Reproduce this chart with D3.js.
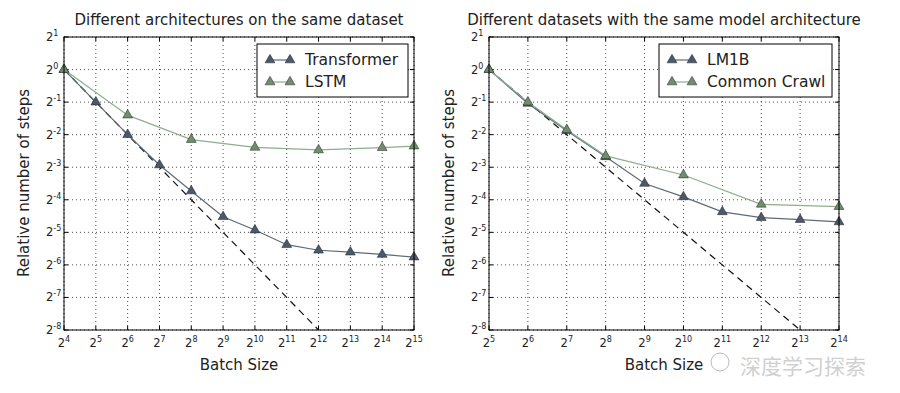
<!DOCTYPE html>
<html>
<head>
<meta charset="utf-8">
<script src="https://cdn.jsdelivr.net/npm/d3@7"></script>
<style>
	body { margin: 0; background: #fff; }
	svg { font-family: "DejaVu Sans", sans-serif; }
</style>
</head>
<body>
<svg id="chart" width="900" height="393"></svg>
<script>
// exponents (log2)
const leftBatch = [4, 5, 6, 7, 8, 9, 10, 11, 12, 13, 14, 15];
const transformerSteps = [0, -1, -2, -2.93, -3.73, -4.52, -4.93, -5.38, -5.55, -5.61, -5.68, -5.76];
const lstmBatch = [4, 6, 8, 10, 12, 14, 15];
const lstmSteps = [0, -1.4, -2.15, -2.39, -2.47, -2.4, -2.35];

const rightBatch = [5, 6, 7, 8, 9, 10, 11, 12, 13, 14];
const lm1bSteps = [0, -1.04, -1.88, -2.68, -3.5, -3.91, -4.37, -4.55, -4.61, -4.68];
const crawlBatch = [5, 6, 7, 8, 10, 12, 14];
const crawlSteps = [0, -1.0, -1.85, -2.65, -3.24, -4.14, -4.21];

const yTicks = [1, 0, -1, -2, -3, -4, -5, -6, -7, -8];

const darkMarker = '#4b596a', darkLine = '#5d6a79';
const greenMarker = '#6e8e6e', greenLine = '#8cae8c';

let svg = d3.select('#chart');

function drawPanel(opts) {
	let x = d3.scaleLinear().domain(opts.xDomain).range([opts.left, opts.right]);
	let y = d3.scaleLinear().domain([1, -8]).range([37, 330]);
	let g = svg.append('g');
	let xTicks = d3.range(opts.xDomain[0], opts.xDomain[1] + 1);

	// dotted grid
	g.selectAll('.gx').data(xTicks).enter().append('line')
		.attr('x1', d => x(d)).attr('x2', d => x(d))
		.attr('y1', y(1)).attr('y2', y(-8))
		.attr('stroke', '#000').attr('stroke-width', 0.7).attr('stroke-dasharray', '1,3');
	g.selectAll('.gy').data(yTicks).enter().append('line')
		.attr('y1', d => y(d)).attr('y2', d => y(d))
		.attr('x1', opts.left).attr('x2', opts.right)
		.attr('stroke', '#000').attr('stroke-width', 0.7).attr('stroke-dasharray', '1,3');

	// inward ticks on all four sides
	g.selectAll('.tb').data(xTicks).enter().append('path')
		.attr('d', d => `M${x(d)},${y(-8)}v-4M${x(d)},${y(1)}v4`)
		.attr('stroke', '#000');
	g.selectAll('.tl').data(yTicks).enter().append('path')
		.attr('d', d => `M${opts.left},${y(d)}h4M${opts.right},${y(d)}h-4`)
		.attr('stroke', '#000');

	// ideal scaling dashed line
	let d0 = opts.xDomain[0];
	g.append('line')
		.attr('x1', x(d0)).attr('y1', y(0))
		.attr('x2', x(d0 + 8)).attr('y2', y(-8))
		.attr('stroke', '#111').attr('stroke-width', 1.2).attr('stroke-dasharray', '7,5');

	let line = d3.line().x(d => x(d[0])).y(d => y(d[1]));
	let tri = d3.symbol().type(d3.symbolTriangle).size(42);

	opts.series.forEach(s => {
		let pts = s.xs.map((v, i) => [v, s.ys[i]]);
		g.append('path').datum(pts)
			.attr('d', line).attr('fill', 'none')
			.attr('stroke', s.line).attr('stroke-width', 1.2);
		g.selectAll(null).data(pts).enter().append('path')
			.attr('d', tri)
			.attr('transform', d => `translate(${x(d[0])},${y(d[1])})`)
			.attr('fill', s.marker).attr('stroke', '#222').attr('stroke-width', 0.5);
	});

	// frame
	g.append('rect')
		.attr('x', opts.left).attr('y', y(1))
		.attr('width', opts.right - opts.left).attr('height', y(-8) - y(1))
		.attr('fill', 'none').attr('stroke', '#000').attr('stroke-width', 1);

	// tick labels
	let xl = g.selectAll('.xl').data(xTicks).enter().append('text')
		.attr('x', d => x(d)).attr('y', 347)
		.attr('text-anchor', 'middle').attr('font-size', 11.5).attr('fill', '#222');
	xl.append('tspan').text('2');
	xl.append('tspan').attr('dy', -5).attr('font-size', 8).text(d => d);

	let yl = g.selectAll('.yl').data(yTicks).enter().append('text')
		.attr('x', opts.left - 18).attr('y', d => y(d) + 4)
		.attr('text-anchor', 'start').attr('font-size', 11.5).attr('fill', '#222');
	yl.append('tspan').text('2');
	yl.append('tspan').attr('dy', -5).attr('font-size', 8)
		.text(d => d < 0 ? '-' + (-d) : d);

	// titles
	g.append('text').attr('x', (opts.left + opts.right) / 2).attr('y', 25)
		.attr('text-anchor', 'middle').attr('font-size', 15).attr('fill', '#222')
		.text(opts.title);
	g.append('text').attr('x', (opts.left + opts.right) / 2).attr('y', 370)
		.attr('text-anchor', 'middle').attr('font-size', 15).attr('fill', '#222')
		.text('Batch Size');
	g.append('text')
		.attr('transform', `translate(${opts.left - 35},183) rotate(-90)`)
		.attr('text-anchor', 'middle').attr('font-size', 15).attr('fill', '#222')
		.text('Relative number of steps');

	// legend
	let lg = g.append('g').attr('transform', `translate(${opts.legend[0]},${opts.legend[1]})`);
	lg.append('rect').attr('width', opts.legend[2]).attr('height', 53)
		.attr('fill', '#fff').attr('stroke', '#000').attr('stroke-width', 1);
	opts.series.forEach((s, i) => {
		let ly = 16 + i * 22;
		lg.append('line').attr('x1', 13).attr('x2', 33).attr('y1', ly).attr('y2', ly)
			.attr('stroke', s.line).attr('stroke-width', 1.2);
		[13, 33].forEach(px => lg.append('path').attr('d', tri)
			.attr('transform', `translate(${px},${ly})`)
			.attr('fill', s.marker).attr('stroke', '#222').attr('stroke-width', 0.5));
		lg.append('text').attr('x', 48).attr('y', ly + 5)
			.attr('font-size', 15.5).attr('fill', '#222').text(s.name);
	});
}

drawPanel({
	xDomain: [4, 15], left: 64, right: 414,
	title: 'Different architectures on the same dataset',
	legend: [257, 44, 151],
	series: [
		{ name: 'Transformer', xs: leftBatch, ys: transformerSteps, marker: darkMarker, line: darkLine },
		{ name: 'LSTM', xs: lstmBatch, ys: lstmSteps, marker: greenMarker, line: greenLine }
	]
});

drawPanel({
	xDomain: [5, 14], left: 489, right: 839,
	title: 'Different datasets with the same model architecture',
	legend: [659, 44, 173],
	series: [
		{ name: 'LM1B', xs: rightBatch, ys: lm1bSteps, marker: darkMarker, line: darkLine },
		{ name: 'Common Crawl', xs: crawlBatch, ys: crawlSteps, marker: greenMarker, line: greenLine }
	]
});

// watermark
svg.append('circle').attr('cx', 720).attr('cy', 362).attr('r', 9)
	.attr('fill', 'none').attr('stroke', '#bbb').attr('stroke-width', 1);
svg.append('text').attr('x', 740).attr('y', 374)
	.attr('font-family', '"Noto Sans CJK SC", sans-serif')
	.attr('font-size', 21).attr('fill', '#c4c4c4').attr('fill-opacity', 0.8)
	.text('深度学习探索');
</script>
</body>
</html>
